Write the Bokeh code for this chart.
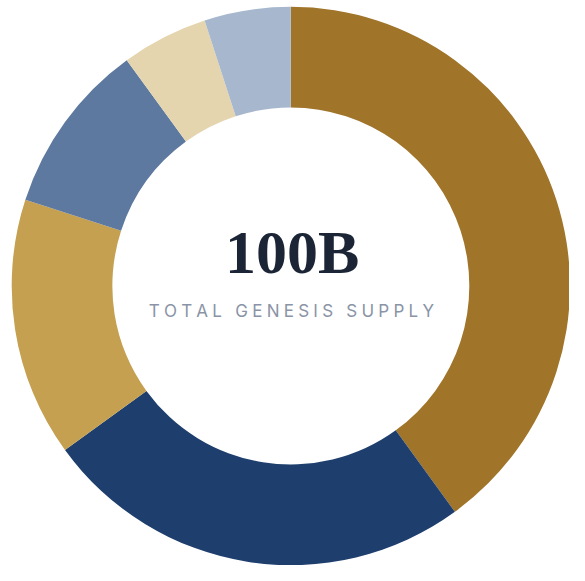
import math
from bokeh.plotting import figure
from bokeh.models import ColumnDataSource, Range1d
from bokeh.core.properties import value
from bokeh.embed import file_html
from bokeh.resources import INLINE

# Data
categories = ["Segment A", "Segment B", "Segment C", "Segment D", "Segment E", "Segment F"]
shares = [40, 25, 15, 10, 5, 5]
colors = ["#A07429", "#1E3F6E", "#C4A050", "#5E79A0", "#E5D5AF", "#A7B8CE"]
center_value = "100B"
center_label = "TOTAL GENESIS SUPPLY"

W, H = 569, 565
s = W / 585.0
cx, cy = 298.5 * s, H - 293.5 * s
r_out, r_in = 287.0 * s, 183.5 * s

total = sum(shares)
starts, ends = [], []
cum = 0.0
for v in shares:
    starts.append(math.pi / 2 - 2 * math.pi * cum / total)
    cum += v
    ends.append(math.pi / 2 - 2 * math.pi * cum / total)

src = ColumnDataSource(dict(cat=categories, val=shares, color=colors,
                            start=starts, end=ends,
                            x=[cx] * len(shares), y=[cy] * len(shares)))

p = figure(width=W, height=H, output_backend="svg", toolbar_location=None,
           x_range=Range1d(0, W), y_range=Range1d(0, H), min_border=0)
p.axis.visible = False
p.grid.visible = False
p.outline_line_color = None
p.background_fill_color = "white"
p.border_fill_color = "white"

p.annular_wedge(x="x", y="y", inner_radius=r_in, outer_radius=r_out,
                start_angle="start", end_angle="end", direction="clock",
                fill_color="color", line_color=None, source=src)

p.text(x=[300 * s], y=[H - 281 * s + 22], text=[center_value],
       text_font=value("Liberation Serif"), text_font_style="bold",
       text_font_size="62px", text_color="#1B2535",
       text_align="center", text_baseline="alphabetic")

spaced = "\u2005".join(list(center_label))
p.text(x=[299 * s], y=[H - 325 * s + 6], text=[spaced],
       text_font=value("Inter"), text_font_size="17px", text_color="#8A94A6",
       text_align="center", text_baseline="alphabetic")

open("out.html", "w").write(file_html(p, INLINE))
